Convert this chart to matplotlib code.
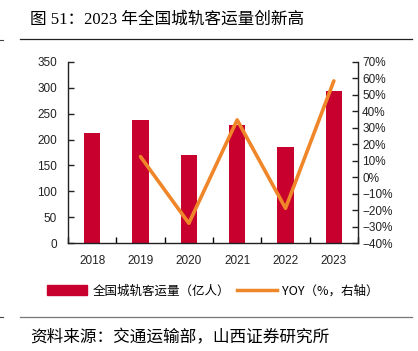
import matplotlib
matplotlib.use('Agg')
import matplotlib.pyplot as plt
from matplotlib.lines import Line2D
from matplotlib.patches import Patch
from matplotlib.ticker import FuncFormatter, MultipleLocator
import numpy as np

plt.rcParams['font.family'] = ['Liberation Sans', 'Noto Sans CJK SC', 'DejaVu Sans']
plt.rcParams['axes.unicode_minus'] = True

# data
years = ['2018', '2019', '2020', '2021', '2022', '2023']
volume = [212, 237, 170, 229, 185, 294]           # 亿人
yoy_years = ['2019', '2020', '2021', '2022', '2023']
yoy = [12.5, -28.0, 34.8, -18.9, 58.5]            # %

bar_color = '#C8002E'
line_color = '#F0862A'

fig = plt.figure(figsize=(4.18, 3.51), dpi=100)
ax = fig.add_axes([68/418, 1 - 243/351, 290/418, 181/351])
ax2 = ax.twinx()

x = np.arange(len(years))
ax.bar(x, volume, width=0.34, color=bar_color, zorder=2)
xi = [years.index(y) for y in yoy_years]
ax2.plot(xi, yoy, color=line_color, lw=2.6, solid_capstyle='round', zorder=3)

ax.set_xlim(-0.5, len(years) - 0.5)
ax.set_ylim(0, 350)
ax.yaxis.set_major_locator(MultipleLocator(50))
ax2.set_ylim(-40, 70)
ax2.yaxis.set_major_locator(MultipleLocator(10))
ax2.yaxis.set_major_formatter(FuncFormatter(lambda v, p: '%d%%' % v if v >= 0 else '\u2212%d%%' % -v))

ax.set_xticks(x)
ax.set_xticklabels(years)
ax.set_xticks(np.arange(len(years) + 1) - 0.5, minor=True)
ax.tick_params(axis='x', which='major', length=0, pad=9, labelsize=8.5, colors='#222222')
ax.tick_params(axis='x', which='minor', direction='in', length=4, width=1)
ax.tick_params(axis='y', direction='in', length=4, width=1, labelsize=8.5, pad=8, colors='#222222')
ax2.tick_params(axis='y', direction='in', length=4, width=1, labelsize=8.5, pad=3, colors='#222222')
for a in (ax, ax2):
    a.spines['top'].set_visible(False)
    for s in ('left', 'right', 'bottom'):
        a.spines[s].set_linewidth(1.0)
        a.spines[s].set_color('#222222')
ax.spines['right'].set_visible(False)
ax2.spines['left'].set_visible(False)
ax2.spines['bottom'].set_visible(False)

# legend
handles = [Patch(color=bar_color), Line2D([0], [0], color=line_color, lw=2.5)]
labels = ['全国城轨客运量（亿人）', 'YOY（%，右轴）']
fig.legend(handles, labels, loc='center', bbox_to_anchor=(213/418, 1 - 291/351), ncol=2,
           frameon=False, handlelength=3.2, handleheight=0.8,
           columnspacing=0.6, handletextpad=0.4, prop={'family': ['Noto Sans CJK SC'], 'size': 9})

# header / footer
fig.text(30/418, 1 - 20/351, '图 51：2023 年全国城轨客运量创新高', fontsize=12,
         family=['Liberation Serif', 'Noto Sans CJK SC'], va='center', ha='left')
fig.add_artist(Line2D([20/418, 412/418], [1 - 39/351] * 2, color='#222222', lw=0.9))
fig.add_artist(Line2D([20/418, 412/418], [1 - 317/351] * 2, color='#777777', lw=0.9))
fig.add_artist(Line2D([0, 3/418], [1 - 40/351] * 2, color='#444444', lw=0.8))
fig.add_artist(Line2D([0, 3/418], [1 - 317/351] * 2, color='#444444', lw=0.8))
fig.text(30/418, 1 - 338/351, '资料来源：交通运输部，山西证券研究所', fontsize=12,
         family=['Noto Sans CJK SC'], va='center', ha='left')

fig.savefig('out.png', dpi=100)
